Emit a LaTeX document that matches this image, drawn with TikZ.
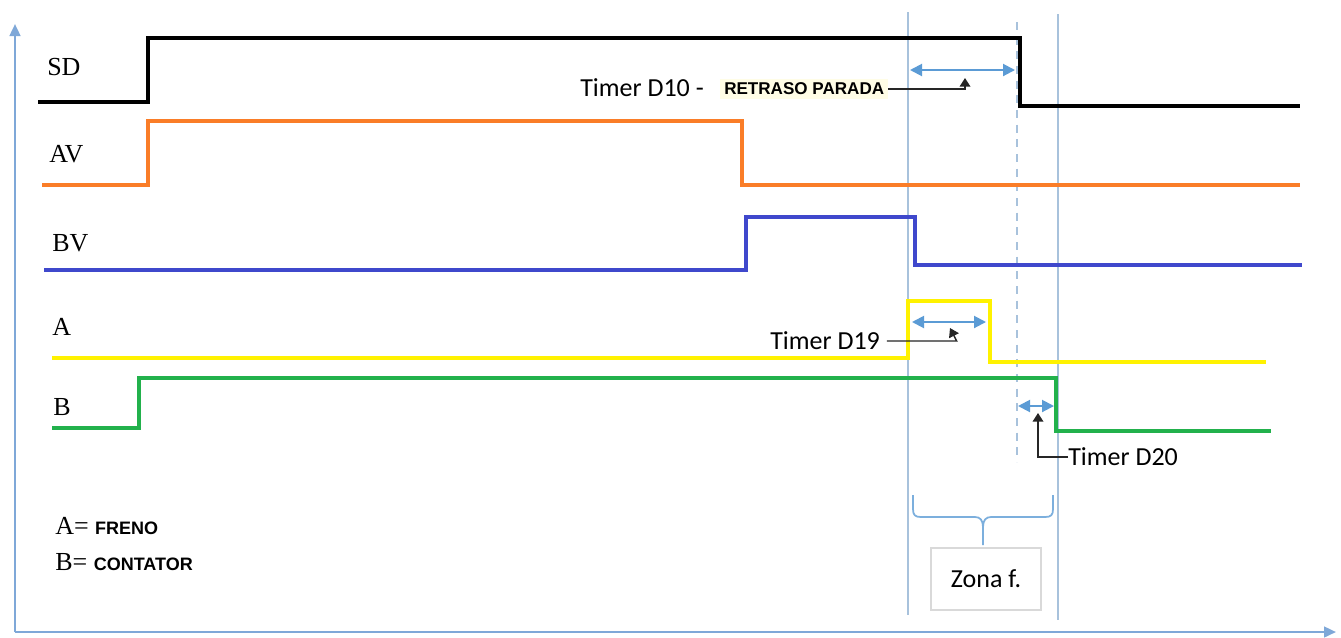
\documentclass[tikz,border=0pt]{standalone}
\usepackage{fontspec}
\setmainfont{Liberation Serif}
\newfontfamily\calib{Carlito}
\newfontfamily\arial{Liberation Sans}
\usetikzlibrary{arrows.meta}
\definecolor{axisblue}{HTML}{7FA8D8}
\definecolor{guideblue}{HTML}{A8C2DC}
\definecolor{arrblue}{HTML}{5B9BD5}
\definecolor{sigorange}{HTML}{FA7D28}
\definecolor{sigblue}{HTML}{3F48CC}
\definecolor{sigyellow}{HTML}{FFF200}
\definecolor{siggreen}{HTML}{22B14C}
\definecolor{hilite}{HTML}{FFFDE6}
\tikzset{
  signal/.style={line width=3pt, line join=miter},
  guide/.style={draw=guideblue, line width=1.3pt},
  axisline/.style={draw=axisblue, line width=1.8pt, -{Triangle[length=9pt,width=8pt]}},
  span/.style={draw=arrblue, line width=1.5pt, {Triangle[length=9pt,width=9pt]}-{Triangle[length=9pt,width=9pt]}},
  pointer/.style={draw=black!85, line width=1.1pt, -{Triangle[length=6.5pt,width=8pt]}},
  siglabel/.style={font=\fontsize{19.5}{20}\selectfont, inner sep=0pt},
  timerlabel/.style={font=\calib\fontsize{19.5}{20}\selectfont, inner sep=0pt},
}
\begin{document}
\begin{tikzpicture}[x=0.75pt,y=-0.75pt]
\useasboundingbox (0,0) rectangle (1341,637);
\fill[white] (0,0) rectangle (1341,637);
% axes
\coordinate (origin) at (15,632);
\coordinate (ytop) at (15,24);
\coordinate (xend) at (1336,632);
\draw[axisline] (origin) -- (ytop);
\draw[axisline] (origin) -- (xend);
% guide lines
\coordinate (g1t) at (908,12); \coordinate (g1b) at (908,615);
\coordinate (g2t) at (1058,14); \coordinate (g2b) at (1058,620);
\coordinate (g3t) at (1017,22); \coordinate (g3b) at (1017,462);
\draw[guide] (g1t) -- (g1b);
\draw[guide] (g2t) -- (g2b);
\draw[guide, dashed, dash pattern=on 6pt off 5pt] (g3t) -- (g3b);
% signals
\draw[signal, black] (38,102) -- (148,102) -- (148,38) -- (1020,38) -- (1020,106) -- (1300,106);
\draw[signal, sigorange] (42,185) -- (148,185) -- (148,121) -- (742,121) -- (742,185) -- (1300,185);
\draw[signal, sigblue] (44,270) -- (746,270) -- (746,217) -- (915,217) -- (915,265) -- (1302,265);
\draw[signal, sigyellow] (52,358) -- (908,358) -- (908,301) -- (990,301) -- (990,362) -- (1266,362);
\draw[signal, siggreen] (52,428) -- (139,428) -- (139,378) -- (1056,378) -- (1056,431) -- (1271,431);
% signal labels
\node[siglabel, anchor=west] (lsd) at (47,67) {SD};
\node[siglabel, anchor=west] (lav) at (49,154) {AV};
\node[siglabel, anchor=west] (lbv) at (52,243) {BV};
\node[siglabel, anchor=west] (la) at (52,327) {A};
\node[siglabel, anchor=west] (lb) at (53,407) {B};
% Timer D10
\coordinate (s10a) at (910,70); \coordinate (s10b) at (1015,70);
\draw[span] (s10a) -- (s10b);
\node[timerlabel, anchor=west] (t10) at (580,88) {Timer D10 -};
\node[anchor=west, fill=hilite, inner xsep=3pt, inner ysep=3pt, font=\arial\bfseries\fontsize{12.8}{13}\selectfont] (t10b) at (720,89) {RETRASO PARADA};
\coordinate (p10) at (965,78);
\draw[pointer] (t10b.east) -- (t10b.east -| p10) -- (p10);
% Timer D19
\coordinate (s19a) at (912,322); \coordinate (s19b) at (986,322);
\draw[span] (s19a) -- (s19b);
\node[timerlabel, anchor=west] (t19) at (770,341) {Timer D19};
\coordinate (p19) at (950,328);
\draw[pointer] ([xshift=5pt]t19.east) -- ([xshift=5pt]t19.east -| p19) -- (p19);
% Timer D20
\coordinate (s20a) at (1018,406); \coordinate (s20b) at (1054,406);
\draw[span] (s20a) -- (s20b);
\node[timerlabel, anchor=west] (t20) at (1068,457) {Timer D20};
\coordinate (p20) at (1038,413);
\draw[pointer] (t20.west) -- (t20.west -| p20) -- (p20);
% brace and zone box
\node[draw=black!15, line width=0.8pt, minimum width=82.5pt, minimum height=46.5pt, inner sep=0pt] (zona) at (986,579) {};
\node[timerlabel] (zonatext) at (986,579) {Zona f.};
\coordinate (bl) at (913,495); \coordinate (br) at (1053,495);
\coordinate (btip) at (983,545);
\draw[draw=arrblue!80, line width=1.3pt]
  (bl) -- (913,509) .. controls (913,515) and (915,517) .. (921,517) -- (975,517)
  .. controls (980,517) and (983,520) .. (983,527) -- (btip);
\draw[draw=arrblue!80, line width=1.3pt]
  (br) -- (1053,509) .. controls (1053,515) and (1051,517) .. (1045,517) -- (991,517)
  .. controls (986,517) and (983,520) .. (983,527);
% legend
\node[anchor=west, inner sep=0pt] (lega) at (55,526) {\fontsize{19.5}{20}\selectfont A= \arial\bfseries\fontsize{13.5}{14}\selectfont FRENO};
\node[anchor=west, inner sep=0pt] (legb) at (55,562) {\fontsize{19.5}{20}\selectfont B= \arial\bfseries\fontsize{13.5}{14}\selectfont CONTATOR};
\end{tikzpicture}
\end{document}
